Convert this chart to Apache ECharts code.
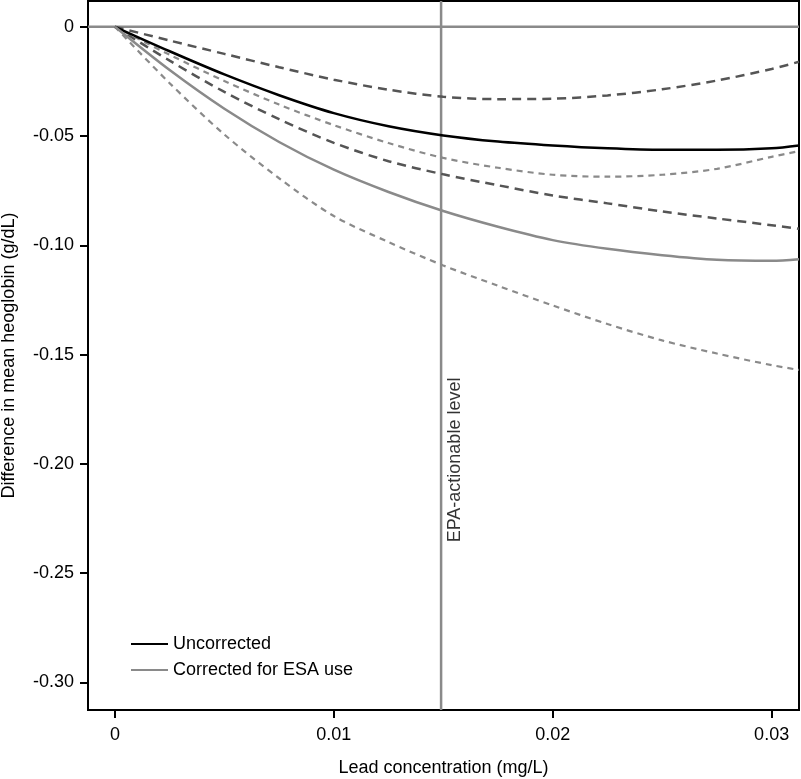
<!DOCTYPE html>
<html>
<head>
<meta charset="utf-8">
<script src="https://cdn.jsdelivr.net/npm/echarts@6/dist/echarts.min.js"></script>
<style>
html, body { margin: 0; padding: 0; background: #fff; }
#main { width: 801px; height: 779px; }
</style>
</head>
<body>
<div id="main"></div>
<script>
// lead concentration (mg/L)
const leadX = [0, 0.0025, 0.005, 0.0075, 0.01, 0.0125, 0.015, 0.0175, 0.02, 0.0225, 0.025, 0.0275, 0.03, 0.03125];
// difference in mean hemoglobin (g/dL)
const uncorrected = [0, -0.0112, -0.0218, -0.0313, -0.0395, -0.0455, -0.0497, -0.0525, -0.0543, -0.0556, -0.0563, -0.0563, -0.0556, -0.0543];
const uncUpper    = [0, -0.0063, -0.0124, -0.0185, -0.0242, -0.0288, -0.0320, -0.0331, -0.0329, -0.0314, -0.0286, -0.0246, -0.0193, -0.0160];
const uncLower    = [0, -0.0155, -0.0298, -0.0423, -0.0531, -0.0615, -0.0675, -0.0725, -0.0772, -0.0808, -0.0845, -0.0877, -0.0908, -0.0924];
const corrected   = [0, -0.0198, -0.0375, -0.0527, -0.0654, -0.0756, -0.0843, -0.0915, -0.0976, -0.1016, -0.1045, -0.1066, -0.1071, -0.1064];
const corUpper    = [0, -0.0128, -0.0248, -0.0356, -0.0450, -0.0532, -0.0600, -0.0645, -0.0677, -0.0686, -0.0677, -0.0650, -0.0595, -0.0569];
const corLower    = [0, -0.0258, -0.0493, -0.0693, -0.0866, -0.0985, -0.1092, -0.1185, -0.1275, -0.1360, -0.1435, -0.1495, -0.1548, -0.1570];

const xTicks = [0, 0.01, 0.02, 0.03];
const yTicks = [0, -0.05, -0.10, -0.15, -0.20, -0.25, -0.30];
const xRange = [-0.00123, 0.03125];
const yRange = [-0.3126, 0.0118];
const epaLevel = 0.0149;
const epaText = 'EPA-actionable level';

const FONT = 'Liberation Sans, Arial, Helvetica, sans-serif';
const FS = 18;

function pairs(ys){
    return leadX.map((x, i) => [x, ys[i]]);
}

function curve(name, ys, color, dash, width, z){
    return {
        name: name,
        type: 'line',
        data: pairs(ys),
        smooth: 0.3,
        showSymbol: false,
        silent: true,
        lineStyle: { color: color, width: width, type: dash },
        itemStyle: { color: color },
        z: z
    };
}

function refLine(name, pts){
    return {
        name: name,
        type: 'line',
        data: pts,
        showSymbol: false,
        silent: true,
        lineStyle: { color: '#8a8a8a', width: 2.5 },
        z: 2
    };
}

var myChart = echarts.init(document.getElementById('main'));
var option = {
    animation: false,
    backgroundColor: '#fff',
    textStyle: { fontFamily: FONT },
    grid: {
        left: 88, right: 2, top: 1, bottom: 69,
        show: true, borderColor: '#000', borderWidth: 2,
        outerBoundsMode: 'none'
    },
    legend: {
        data: ['Uncorrected', 'Corrected for ESA use'],
        orient: 'vertical',
        left: 131, top: 635,
        padding: 0,
        icon: 'rect',
        itemWidth: 37, itemHeight: 2,
        itemGap: 8,
        textStyle: { fontFamily: FONT, fontSize: FS, color: '#000' }
    },
    xAxis: {
        type: 'value',
        min: xRange[0], max: xRange[1],
        name: 'Lead concentration (mg/L)',
        nameLocation: 'middle',
        nameGap: 49,
        nameTextStyle: { fontFamily: FONT, fontSize: FS, color: '#000' },
        axisLine: { show: true, onZero: false, lineStyle: { color: '#000', width: 2 } },
        axisTick: { show: true, customValues: xTicks, length: 8, lineStyle: { color: '#000', width: 2 } },
        axisLabel: {
            customValues: xTicks, margin: 16,
            fontFamily: FONT, fontSize: FS, color: '#000',
            formatter: v => (Math.abs(v) < 1e-9 ? '0' : String(+v.toFixed(2)))
        },
        splitLine: { show: false }
    },
    yAxis: {
        type: 'value',
        min: yRange[0], max: yRange[1],
        name: 'Difference in mean heoglobin (g/dL)',
        nameLocation: 'middle',
        nameGap: 70,
        nameTextStyle: { fontFamily: FONT, fontSize: FS, color: '#000' },
        axisLine: { show: true, onZero: false, lineStyle: { color: '#000', width: 2 } },
        axisTick: { show: true, customValues: yTicks, length: 8, lineStyle: { color: '#000', width: 2 } },
        axisLabel: {
            customValues: yTicks, margin: 14,
            fontFamily: FONT, fontSize: FS, color: '#000',
            formatter: v => (Math.abs(v) < 1e-9 ? '0' : v.toFixed(2))
        },
        splitLine: { show: false }
    },
    series: [
        refLine('zeroLine', [[xRange[0], 0], [xRange[1], 0]]),
        refLine('epaLine', [[epaLevel, yRange[0]], [epaLevel, yRange[1]]]),
        curve('uncUpper', uncUpper, '#555', [9, 6], 2.5, 3),
        curve('uncLower', uncLower, '#555', [9, 6], 2.5, 3),
        curve('corUpper', corUpper, '#8a8a8a', [6, 5], 2.2, 3),
        curve('corLower', corLower, '#8a8a8a', [6, 5], 2.2, 3),
        curve('Uncorrected', uncorrected, '#000', 'solid', 2.5, 4),
        curve('Corrected for ESA use', corrected, '#8a8a8a', 'solid', 2.5, 4),
        {
            name: 'epaLabel',
            type: 'scatter',
            data: [[epaLevel, -0.1982]],
            symbolSize: 0,
            silent: true,
            label: {
                show: true,
                formatter: epaText,
                rotate: 90,
                position: 'inside',
                offset: [0, 14],
                fontFamily: FONT, fontSize: FS, color: '#000'
            }
        }
    ]
};
myChart.setOption(option);
</script>
</body>
</html>
